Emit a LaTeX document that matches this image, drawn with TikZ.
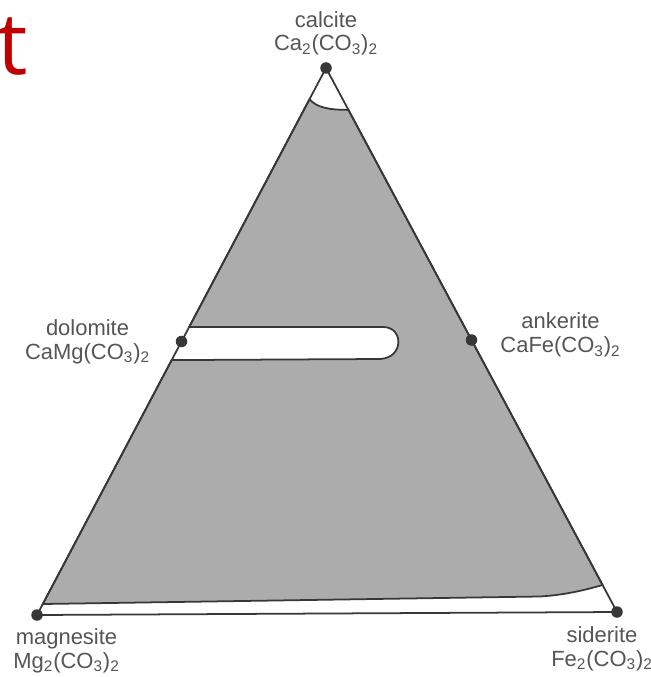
\documentclass[tikz,border=0pt]{standalone}
\usepackage{fontspec}
\setmainfont{Liberation Sans}
\newfontfamily\titlefont{Open Sans}
\usepackage{tikz}
\usetikzlibrary{positioning, calc}
\definecolor{fieldgray}{RGB}{172,172,172}
\definecolor{ink}{RGB}{55,55,55}
\definecolor{labelgray}{RGB}{85,85,85}
\definecolor{titlered}{RGB}{192,0,0}

\begin{document}
\begin{tikzpicture}[x=0.2mm, y=-0.2mm,
  mineral/.style={circle, fill=ink, inner sep=0pt, minimum size=2.3mm},
  name label/.style={text=labelgray, align=center, inner sep=0pt, font=\fontsize{12.5}{13.5}\selectfont}]
\useasboundingbox (0,0) rectangle (651,677);
\node[text=titlered, font=\titlefont\fontsize{49}{49}\selectfont, anchor=base west, inner sep=0pt] (title) at (-3,75) {t};

\coordinate (cal) at (326,68);
\coordinate (mag) at (37,615);
\coordinate (sid) at (617,612);
\coordinate (dol) at ($(mag)!0.5!(cal)$);
\coordinate (ank) at ($(sid)!0.5!(cal)$);

\fill[fieldgray, draw=ink, line width=1pt] ($(mag)!0.943!(cal)$) .. controls (316,107) and (328,110) .. ($(sid)!0.923!(cal)$)
  -- ($(sid)!0.0496!(cal)$) .. controls (585,590) and (565,595) .. (540,596.5)
  -- ($(mag)!0.0201!(cal)$) -- ($(mag)!0.466!(cal)$)
  -- (380,359) .. controls (404,358) and (404,327) .. (383,327)
  -- ($(mag)!0.5265!(cal)$) -- cycle;
\draw[ink, line width=1pt] (cal) -- (mag) -- (sid) -- cycle;

\node[mineral] (cal dot) at (cal) {};
\node[mineral] (mag dot) at (mag) {};
\node[mineral] (sid dot) at (sid) {};
\node[mineral] (dol dot) at (dol) {};
\node[mineral] (ank dot) at (ank) {};

\node[name label, above=1.2mm of cal dot] (cal label) {calcite\\Ca\textsubscript{2}(CO\textsubscript{3})\textsubscript{2}};
\node[name label, left=5mm of dol dot] (dol label) {dolomite\\CaMg(CO\textsubscript{3})\textsubscript{2}};
\node[name label, right=4.5mm of ank dot, yshift=1mm] (ank label) {ankerite\\CaFe(CO\textsubscript{3})\textsubscript{2}};
\node[name label, below=1.4mm of mag dot, xshift=5.9mm] (mag label) {magnesite\\Mg\textsubscript{2}(CO\textsubscript{3})\textsubscript{2}};
\node[name label, below=1.6mm of sid dot, xshift=-3mm] (sid label) {siderite\\Fe\textsubscript{2}(CO\textsubscript{3})\textsubscript{2}};
\end{tikzpicture}
\end{document}
